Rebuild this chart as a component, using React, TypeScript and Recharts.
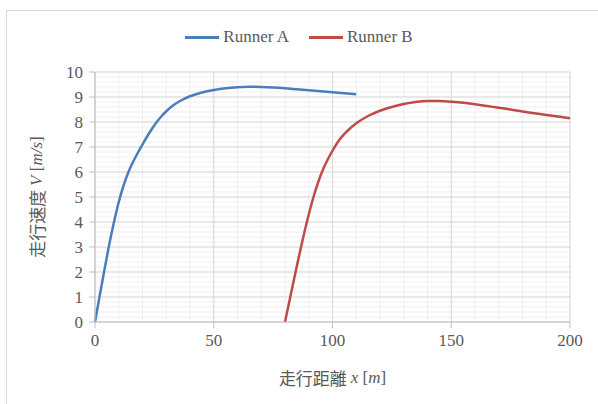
import React from 'react'
import { LineChart, Line, XAxis, YAxis, CartesianGrid } from 'recharts'

// distance [m] / speed [m/s]
const distA = [0, 2, 4, 6, 8, 10, 12, 14, 16, 18, 20, 22, 24, 26, 28, 30, 33, 36, 40, 45, 50, 55, 60, 65, 70, 75, 80, 85, 90, 95, 100, 105, 110]
const speedA = [0, 1.06, 2.1, 3.1, 4.0, 4.8, 5.45, 5.98, 6.4, 6.76, 7.1, 7.43, 7.73, 8.0, 8.23, 8.43, 8.67, 8.85, 9.03, 9.18, 9.28, 9.35, 9.39, 9.41, 9.4, 9.38, 9.35, 9.31, 9.27, 9.23, 9.19, 9.15, 9.11]

const distB = [80, 82, 84, 86, 88, 90, 92, 94, 96, 98, 100, 103, 106, 110, 115, 120, 125, 130, 135, 140, 145, 150, 155, 160, 165, 170, 175, 180, 185, 190, 195, 200]
const speedB = [0, 0.9, 1.8, 2.68, 3.52, 4.3, 5.0, 5.6, 6.1, 6.5, 6.85, 7.3, 7.62, 7.95, 8.24, 8.45, 8.6, 8.72, 8.8, 8.84, 8.84, 8.81, 8.77, 8.71, 8.64, 8.57, 8.5, 8.42, 8.35, 8.28, 8.22, 8.15]

const xTicks = [0, 50, 100, 150, 200]
const yTicks = [0, 1, 2, 3, 4, 5, 6, 7, 8, 9, 10]
const xMinor = Array.from({ length: 21 }, (_, i) => i * 10)
const yMinor = Array.from({ length: 51 }, (_, i) => Math.round(i * 2) / 10)

const seriesA = distA.map((x, i) => ({ x, v: speedA[i] }))
const seriesB = distB.map((x, i) => ({ x, v: speedB[i] }))

const BLUE = '#4a7ebb'
const RED = '#be4b48'
const TEXT = '#595959'
const SERIF = "'Liberation Serif', 'Times New Roman', Tinos, 'DejaVu Serif', 'Noto Serif', Times, serif"
const CJK = "'Noto Sans CJK JP', 'Noto Sans CJK SC', sans-serif"

const LegendBox = () => (
  <div style={{ position: 'absolute', left: 0, top: 26, width: 598, textAlign: 'center', fontFamily: SERIF, fontSize: 17, color: TEXT }}>
    <span style={{ display: 'inline-block', width: 34, height: 3, background: BLUE, verticalAlign: 'middle', marginRight: 4 }} />
    <span style={{ verticalAlign: 'middle' }}>Runner A</span>
    <span style={{ display: 'inline-block', width: 34, height: 3, background: RED, verticalAlign: 'middle', marginLeft: 20, marginRight: 4 }} />
    <span style={{ verticalAlign: 'middle' }}>Runner B</span>
  </div>
)

const YLabel = (props: any) => {
  const { viewBox } = props
  const cx = 36
  const cy = viewBox.y + viewBox.height / 2
  return (
    <text x={cx} y={cy} transform={`rotate(-90 ${cx} ${cy})`} textAnchor="middle" dominantBaseline="central" fill={TEXT} fontSize={17}>
      <tspan style={{ fontFamily: CJK }}>走行速度 </tspan>
      <tspan style={{ fontFamily: SERIF, fontStyle: 'italic' }}>V</tspan>
      <tspan style={{ fontFamily: SERIF }}> [</tspan>
      <tspan style={{ fontFamily: SERIF, fontStyle: 'italic' }}>m/s</tspan>
      <tspan style={{ fontFamily: SERIF }}>]</tspan>
    </text>
  )
}

const XLabel = (props: any) => {
  const { viewBox } = props
  const cx = viewBox.x + viewBox.width / 2
  return (
    <text x={cx} y={377} textAnchor="middle" dominantBaseline="central" fill={TEXT} fontSize={17}>
      <tspan style={{ fontFamily: CJK }}>走行距離 </tspan>
      <tspan style={{ fontFamily: SERIF, fontStyle: 'italic' }}>x</tspan>
      <tspan style={{ fontFamily: SERIF }}> [</tspan>
      <tspan style={{ fontFamily: SERIF, fontStyle: 'italic' }}>m</tspan>
      <tspan style={{ fontFamily: SERIF }}>]</tspan>
    </text>
  )
}

const tickStyle = { fill: TEXT, fontSize: 17, style: { fontFamily: SERIF } }

const App = () => {
  return (
    <div style={{ position: 'absolute', left: 0, top: 0, width: 598, height: 404, overflow: 'hidden', background: '#fff' }}>
      <div style={{ position: 'absolute', left: 6, top: 10, width: 610, height: 410, border: '1px solid #d9d9d9' }} />
      <LegendBox />
      <div style={{ position: 'absolute', left: 0, top: 0 }}>
        <LineChart width={598} height={404} margin={{ top: 72, right: 28, bottom: 32, left: 0 }}>
          <CartesianGrid verticalValues={xMinor} horizontalValues={yMinor} stroke="#efefef" strokeWidth={1} />
          <CartesianGrid stroke="#d9d9d9" strokeWidth={1} />
          <XAxis
            dataKey="x"
            type="number"
            domain={[0, 200]}
            ticks={xTicks}
            interval={0}
            height={50}
            stroke="#bfbfbf"
            tickSize={6}
            tickMargin={6}
            tick={tickStyle}
            label={<XLabel />}
          />
          <YAxis
            type="number"
            domain={[0, 10]}
            ticks={yTicks}
            interval={0}
            width={95}
            stroke="#bfbfbf"
            tickSize={6}
            tickMargin={6}
            tick={tickStyle}
            label={<YLabel />}
          />
          <Line data={seriesA} dataKey="v" type="monotone" stroke={BLUE} strokeWidth={2.5} dot={false} isAnimationActive={false} />
          <Line data={seriesB} dataKey="v" type="monotone" stroke={RED} strokeWidth={2.5} dot={false} isAnimationActive={false} />
        </LineChart>
      </div>
    </div>
  )
}

export default App
